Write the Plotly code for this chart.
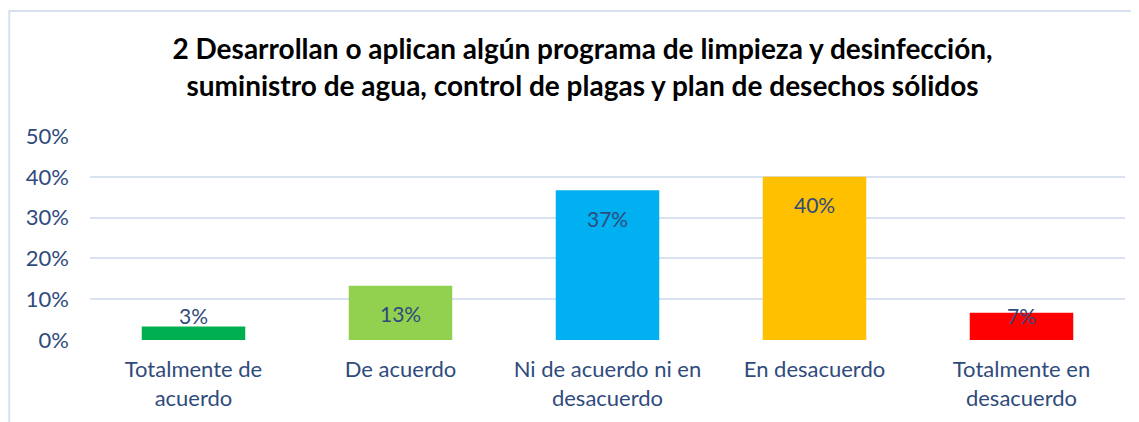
import plotly.graph_objects as go

categories = ["Totalmente de<br>acuerdo", "De acuerdo", "Ni de acuerdo ni en<br>desacuerdo",
              "En desacuerdo", "Totalmente en<br>desacuerdo"]
values = [3.3, 13.3, 36.7, 40.0, 6.7]
labels = ["3%", "13%", "37%", "40%", "7%"]
colors = ["#00B050", "#92D050", "#00B0F0", "#FFC000", "#FF0000"]

TEXT = "#2F4B7C"
FONT = "Lato, Open Sans, sans-serif"

fig = go.Figure(
    go.Bar(
        x=categories,
        y=values,
        marker=dict(color=colors, line=dict(width=0)),
        width=0.5,
        hoverinfo="skip",
    )
)

# etiquetas "inside end", con un mínimo para barras pequeñas
for c, v, t in zip(categories, values, labels):
    fig.add_annotation(
        x=c, y=max(v - 6.9, 6.1), text=t, showarrow=False,
        font=dict(size=21, color=TEXT, family=FONT),
    )

fig.add_shape(
    type="rect", xref="paper", yref="paper",
    x0=-0.078, x1=1.2, y0=-0.6, y1=1.613,
    line=dict(color="#D6E0F0", width=2), fillcolor="rgba(0,0,0,0)", layer="below",
)

# la página añade 8px de margen, por eso el tamaño es 1131x414
fig.update_layout(
    width=1131,
    height=414,
    margin=dict(l=82, r=14, t=128, b=82),
    paper_bgcolor="white",
    plot_bgcolor="white",
    showlegend=False,
    title=dict(
        text="2 Desarrollan o aplican algún programa de limpieza y desinfección,<br>"
             "suministro de agua, control de plagas y plan de desechos sólidos",
        x=0.508, xanchor="center", y=0.876, yanchor="middle",
        font=dict(size=28, color="black", family=FONT, weight="bold"),
    ),
    xaxis=dict(
        tickfont=dict(size=22, color=TEXT, family=FONT),
        showgrid=False, showline=False, ticks="", ticklabelstandoff=14,
    ),
    yaxis=dict(
        range=[0, 50], dtick=10, ticksuffix="%",
        tickfont=dict(size=22, color=TEXT, family=FONT),
        gridcolor="#D9E2F0", gridwidth=2,
        zeroline=False, showline=False, ticklabelstandoff=20,
    ),
)

fig.write_html("out.html")
